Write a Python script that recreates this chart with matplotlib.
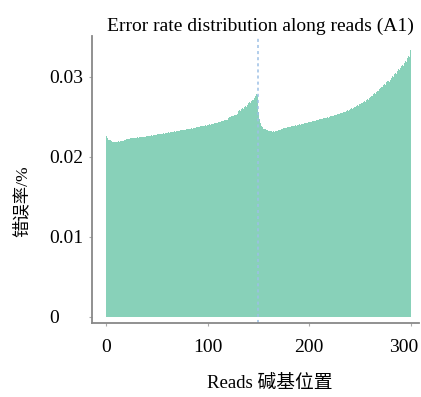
import numpy as np
import matplotlib
matplotlib.use("Agg")
import matplotlib.pyplot as plt
from matplotlib.transforms import ScaledTranslation

plt.rcParams['font.family'] = ['Liberation Serif', 'Noto Sans CJK SC']

title = "Error rate distribution along reads (A1)"
xlabel = "Reads 碱基位置"
ylabel = "错误率/%"
xticks = [0, 100, 200, 300]
yticks = [0, 0.01, 0.02, 0.03]
ytick_labels = ["0", "0.01", "0.02", "0.03"]
split_position = 150

# error rate per read position, in units of 1e-5
error_rate_e5 = [
    2262, 2238, 2215, 2208, 2212, 2196, 2190, 2185, 2192, 2188,
    2182, 2190, 2195, 2192, 2198, 2200, 2202, 2199, 2205, 2212,
    2222, 2225, 2228, 2226, 2231, 2233, 2230, 2236, 2238, 2235,
    2240, 2243, 2241, 2246, 2248, 2245, 2250, 2253, 2251, 2256,
    2258, 2262, 2260, 2265, 2268, 2266, 2270, 2273, 2271, 2275,
    2280, 2283, 2281, 2286, 2288, 2290, 2293, 2291, 2296, 2298,
    2302, 2305, 2303, 2308, 2312, 2310, 2315, 2318, 2316, 2320,
    2324, 2327, 2325, 2330, 2334, 2332, 2337, 2340, 2338, 2343,
    2346, 2349, 2347, 2352, 2356, 2354, 2360, 2364, 2361, 2368,
    2372, 2376, 2373, 2380, 2385, 2382, 2389, 2393, 2390, 2398,
    2402, 2406, 2403, 2410, 2415, 2412, 2419, 2424, 2421, 2428,
    2436, 2440, 2437, 2445, 2450, 2446, 2455, 2461, 2457, 2466,
    2490, 2497, 2494, 2505, 2512, 2508, 2520, 2528, 2524, 2537,
    2570, 2582, 2576, 2595, 2606, 2600, 2622, 2634, 2628, 2650,
    2668, 2681, 2673, 2700, 2715, 2706, 2738, 2762, 2790, 2770,
    2560, 2470, 2418, 2385, 2368, 2352, 2345, 2338, 2332, 2328,
    2322, 2318, 2320, 2315, 2318, 2314, 2320, 2325, 2322, 2330,
    2336, 2341, 2345, 2352, 2356, 2360, 2365, 2362, 2370, 2374,
    2378, 2376, 2382, 2385, 2383, 2390, 2394, 2392, 2398, 2402,
    2406, 2404, 2410, 2415, 2412, 2418, 2422, 2419, 2426, 2432,
    2436, 2440, 2437, 2444, 2449, 2446, 2452, 2458, 2455, 2462,
    2468, 2472, 2469, 2478, 2483, 2480, 2488, 2494, 2490, 2498,
    2505, 2510, 2506, 2516, 2522, 2518, 2528, 2535, 2530, 2540,
    2546, 2552, 2548, 2560, 2566, 2562, 2574, 2582, 2577, 2590,
    2598, 2606, 2601, 2615, 2624, 2618, 2633, 2644, 2638, 2655,
    2664, 2675, 2668, 2686, 2697, 2690, 2710, 2722, 2715, 2738,
    2750, 2764, 2756, 2780, 2794, 2785, 2810, 2828, 2818, 2845,
    2860, 2878, 2868, 2895, 2912, 2902, 2930, 2948, 2938, 2965,
    2990, 3010, 2998, 3032, 3050, 3038, 3070, 3092, 3080, 3112,
    3135, 3152, 3140, 3172, 3198, 3190, 3230, 3265, 3250, 3335,
]
error_rate = np.array(error_rate_e5) / 1e5
positions = np.arange(1, len(error_rate) + 1)

fig = plt.figure(figsize=(4.21, 3.97), dpi=100)
ax = fig.add_axes([92 / 421, 1 - 323 / 397, (419 - 92) / 421, (323 - 36) / 397])

ax.bar(positions - 0.5, error_rate, width=1.0, color='#88d1b9', linewidth=0)
ax.axvline(split_position, color='#9cc0e6', linestyle=(0, (2, 2)), linewidth=1.1)

ax.set_xlim(-13.7, 308)
ax.set_ylim(-0.00075, 0.0351)

for s in ['top', 'right']:
    ax.spines[s].set_visible(False)
for s in ['left', 'bottom']:
    ax.spines[s].set_color('#888888')
    ax.spines[s].set_linewidth(1.3)

ax.set_xticks(xticks)
ax.set_xticklabels([str(t) for t in xticks], fontsize=14)
ax.set_yticks(yticks)
ax.set_yticklabels(ytick_labels, fontsize=14)
ax.tick_params(axis='both', colors='#aaaaaa', length=2.5, width=0.8, labelcolor='black')
ax.tick_params(axis='x', pad=9)
ax.tick_params(axis='y', pad=28)
for lab in ax.get_yticklabels():
    lab.set_horizontalalignment('left')
xl = ax.get_xticklabels()
xl[-1].set_transform(xl[-1].get_transform() + ScaledTranslation(-0.07, 0, fig.dpi_scale_trans))

ax.set_title(title, fontsize=14, pad=4, x=0.514)
ax.set_xlabel(xlabel, fontsize=13.5)
ax.xaxis.set_label_coords(0.544, -0.182)
ax.set_ylabel(ylabel, fontsize=12.5)
ax.yaxis.set_label_coords(-0.188, 0.425)

fig.savefig("out.png", dpi=100)
